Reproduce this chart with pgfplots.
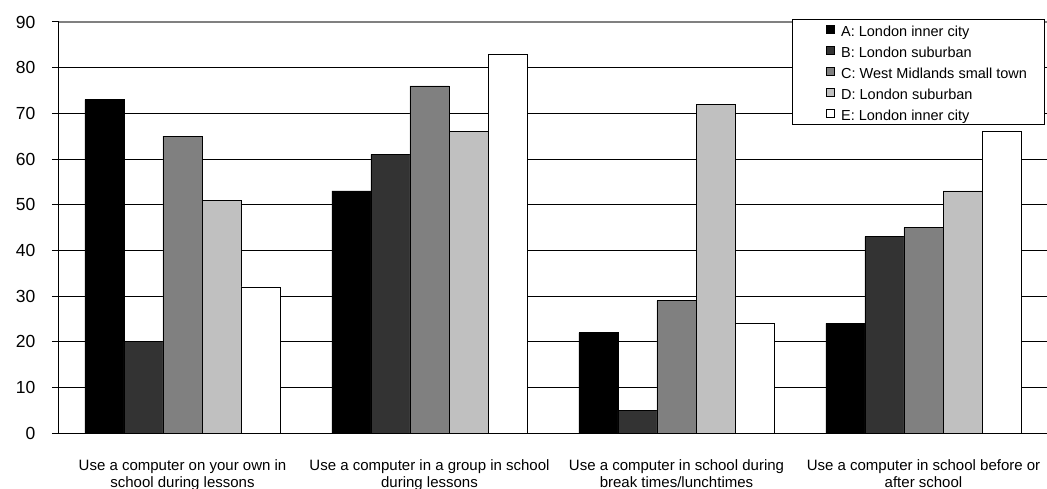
\documentclass[border=0pt]{standalone}
\usepackage{fontspec}
\setmainfont{Liberation Sans}
\usepackage{pgfplots}
\pgfplotsset{compat=1.18}

\definecolor{serA}{HTML}{000000}
\definecolor{serB}{HTML}{333333}
\definecolor{serC}{HTML}{808080}
\definecolor{serD}{HTML}{C0C0C0}
\definecolor{serE}{HTML}{FFFFFF}

% legend key: small framed square, with blank room on its left and a gap on its right
\pgfplotsset{
  sqlegend/.style={
    legend image code/.code={
      \path (-18pt,0pt) (13pt,0pt);
      \draw[##1, draw=black, line width=0.9pt] (0pt,-4pt) rectangle (8pt,4pt);
    }
  },
  barstyle/.style={fill=#1, draw=black, line width=0.6pt, sqlegend}
}

\begin{document}
\begin{tikzpicture}
\begin{axis}[
  at={(0,0)}, anchor=south west,
  scale only axis, width=988pt, height=411pt,
  xmin=-0.5, xmax=3.5, ymin=0, ymax=90,
  ybar=0pt, bar width=0.158,
  axis lines*=left,
  axis line style={black, line width=1pt},
  ytick={0,10,...,90},
  ymajorgrids, major grid style={black, line width=0.9pt},
  tick align=outside,
  major tick length=7pt,
  tick style={black, line width=1pt},
  xtick={0,1,2,3},
  x tick style={draw=none},
  minor xtick={0.5,1.5,2.5},
  minor x tick style={black, line width=1pt},
  minor tick length=7pt,
  xticklabels={
    {Use a computer on your own in\\school during lessons},
    {Use a computer in a group in school\\during lessons},
    {Use a computer in school during\\break times/lunchtimes},
    {Use a computer in school before or\\after school}},
  xticklabel style={align=center, font=\fontsize{15}{17}\selectfont, yshift=-16pt},
  /pgf/number format/assume math mode=true,
  yticklabel style={font=\fontsize{17.5}{20}\selectfont, xshift=-13pt},
  legend cell align=left,
  legend style={
    at={(0.742,1.007)}, anchor=north west,
    draw=black, line width=0.9pt, fill=white,
    font=\fontsize{14.5}{16}\selectfont,
    inner xsep=16pt, inner ysep=3pt,
    row sep=6.5pt,
    nodes={inner sep=1pt, text height=12.5pt, text depth=0pt},
  },
  clip=false,
]
% the upper frame line of the plot area is grey
\draw[gray, line width=1.6pt] (axis cs:-0.5,90) -- (axis cs:3.5,90);
\addplot[barstyle=serA] coordinates {(0,73) (1,53) (2,22) (3,24)};
\addplot[barstyle=serB] coordinates {(0,20) (1,61) (2,5) (3,43)};
\addplot[barstyle=serC] coordinates {(0,65) (1,76) (2,29) (3,45)};
\addplot[barstyle=serD] coordinates {(0,51) (1,66) (2,72) (3,53)};
\addplot[barstyle=serE] coordinates {(0,32) (1,83) (2,24) (3,66)};
\legend{A: London inner city, B: London suburban, C: West Midlands small town, D: London suburban, E: London inner city}
\end{axis}
\pgfresetboundingbox
\path (-59pt,-55pt) rectangle (988pt,433pt);
\end{tikzpicture}
\end{document}
